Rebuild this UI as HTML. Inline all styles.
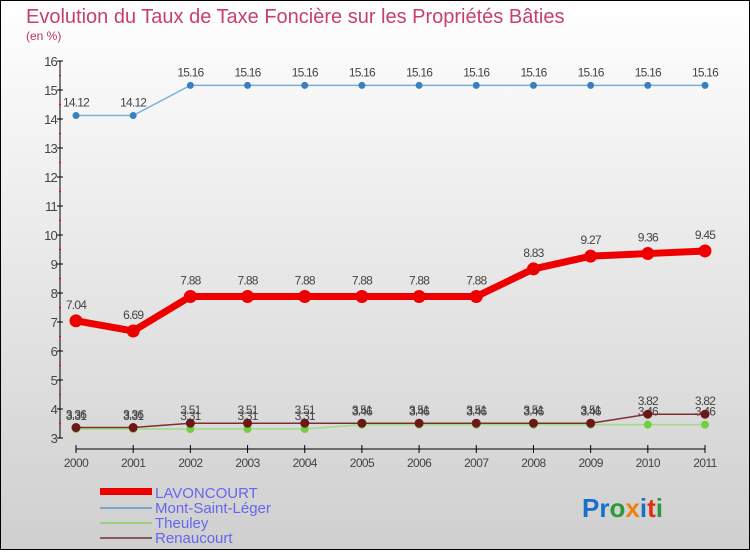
<!DOCTYPE html>
<html><head><meta charset="utf-8"><style>
body{margin:0;width:750px;height:550px;overflow:hidden;font-family:"Liberation Sans",sans-serif}
svg text{font-family:"Liberation Sans",sans-serif}
</style></head><body>
<svg width="750" height="550">
<defs><linearGradient id="bg" x1="0" y1="0" x2="0" y2="1"><stop offset="0" stop-color="#ffffff"/><stop offset="1" stop-color="#cfcfcf"/></linearGradient></defs>
<rect x="0.5" y="0.5" width="749" height="549" fill="url(#bg)" stroke="#000"/>
<text x="26" y="23" font-size="20" fill="#c8406a">Evolution du Taux de Taxe Foncière sur les Propriétés Bâties</text>
<text x="26" y="40" font-size="12" fill="#c0305a">(en %)</text>
<g id="axes"></g><g id="series"></g>
<g font-size="15" fill="#6666ee">
<rect x="100" y="488" width="52" height="7" fill="#e00"/>
<text x="155" y="498">LAVONCOURT</text>
<rect x="100" y="507" width="52" height="2" fill="#7aa8cc"/>
<text x="155" y="513">Mont-Saint-Léger</text>
<rect x="100" y="522" width="52" height="2" fill="#99d080"/>
<text x="155" y="528">Theuley</text>
<rect x="100" y="537" width="52" height="2" fill="#8a5a5a"/>
<text x="155" y="543">Renaucourt</text>
</g>
<g font-size="26" font-weight="bold">
<text x="582" y="517"><tspan fill="#1a70c8">Pr</tspan><tspan fill="#2a9a3a">o</tspan><tspan fill="#f08010">x</tspan><tspan fill="#1a70c8">i</tspan><tspan fill="#e03010">t</tspan><tspan fill="#2a9a3a">i</tspan></text>
</g>
</svg>
<script>
const years=[2000,2001,2002,2003,2004,2005,2006,2007,2008,2009,2010,2011];
const lavoncourt=[7.04,6.69,7.88,7.88,7.88,7.88,7.88,7.88,8.83,9.27,9.36,9.45];
const montSaintLeger=[14.12,14.12,15.16,15.16,15.16,15.16,15.16,15.16,15.16,15.16,15.16,15.16];
const theuley=[3.31,3.31,3.31,3.31,3.31,3.46,3.46,3.46,3.46,3.46,3.46,3.46];
const renaucourt=[3.36,3.36,3.51,3.51,3.51,3.51,3.51,3.51,3.51,3.51,3.82,3.82];
const yTicks=[3,4,5,6,7,8,9,10,11,12,13,14,15,16];
const NS="http://www.w3.org/2000/svg";
const X=i=>76+i*(705-76)/(years.length-1);
const Y=v=>438-(v-3)*(438-61)/13;
function mk(t,a,p){const e=document.createElementNS(NS,t);for(const k in a)e.setAttribute(k,a[k]);p.appendChild(e);return e;}
const ax=document.getElementById('axes');
let l=mk('line',{x1:60,y1:Y(16),x2:60,y2:Y(3),stroke:'#000'},ax);


l=mk('line',{x1:X(0),y1:449,x2:X(11),y2:449,stroke:'#000'},ax);


yTicks.forEach(v=>{
 mk('line',{x1:57,y1:Y(v),x2:63,y2:Y(v),stroke:'#000'},ax);
 if(v<16)mk('line',{x1:59,y1:Y(v+0.5),x2:61,y2:Y(v+0.5),stroke:'#e00'},ax);
 const t=mk('text',{x:57,y:Y(v)+5,'font-size':13,'text-anchor':'end',fill:'#444','letter-spacing':'-0.8'},ax);
 t.textContent=v;
 
 
});
years.forEach((yr,i)=>{
 mk('line',{x1:X(i),y1:445,x2:X(i),y2:453,stroke:'#000'},ax);
 const t=mk('text',{x:X(i),y:467,'font-size':12,'text-anchor':'middle',fill:'#444','letter-spacing':'-0.6'},ax);
 t.textContent=yr;
 
 
});
const sg=document.getElementById('series');
function draw(vals,name,color,w,r,dot){
 const g=mk('g',{},sg);
 
 
 const pl=mk('polyline',{points:vals.map((v,i)=>X(i)+','+Y(v)).join(' '),fill:'none',stroke:color,'stroke-width':w,'stroke-linejoin':'round'},g);
 
 
 vals.forEach((v,i)=>{
  const c=mk('circle',{cx:X(i),cy:Y(v),r:r,fill:dot},g);
  
  
  const t=mk('text',{x:X(i),y:Y(v)-9-(r>5?3:0),'font-size':12,'text-anchor':'middle',fill:'#444','letter-spacing':'-0.8'},g);
  t.textContent=v.toFixed(2);
  
  
 });
}
draw(montSaintLeger,'mont-saint-leger','#7aaed6',1.5,3.5,'#3a80c0');
draw(theuley,'theuley','#a0dc80',1.5,4,'#70d040');
draw(renaucourt,'renaucourt','#7a3030',1.5,4.5,'#6a1818');
draw(lavoncourt,'lavoncourt','#ee0000',7,6.5,'#ee0000');
</script>
</body></html>
